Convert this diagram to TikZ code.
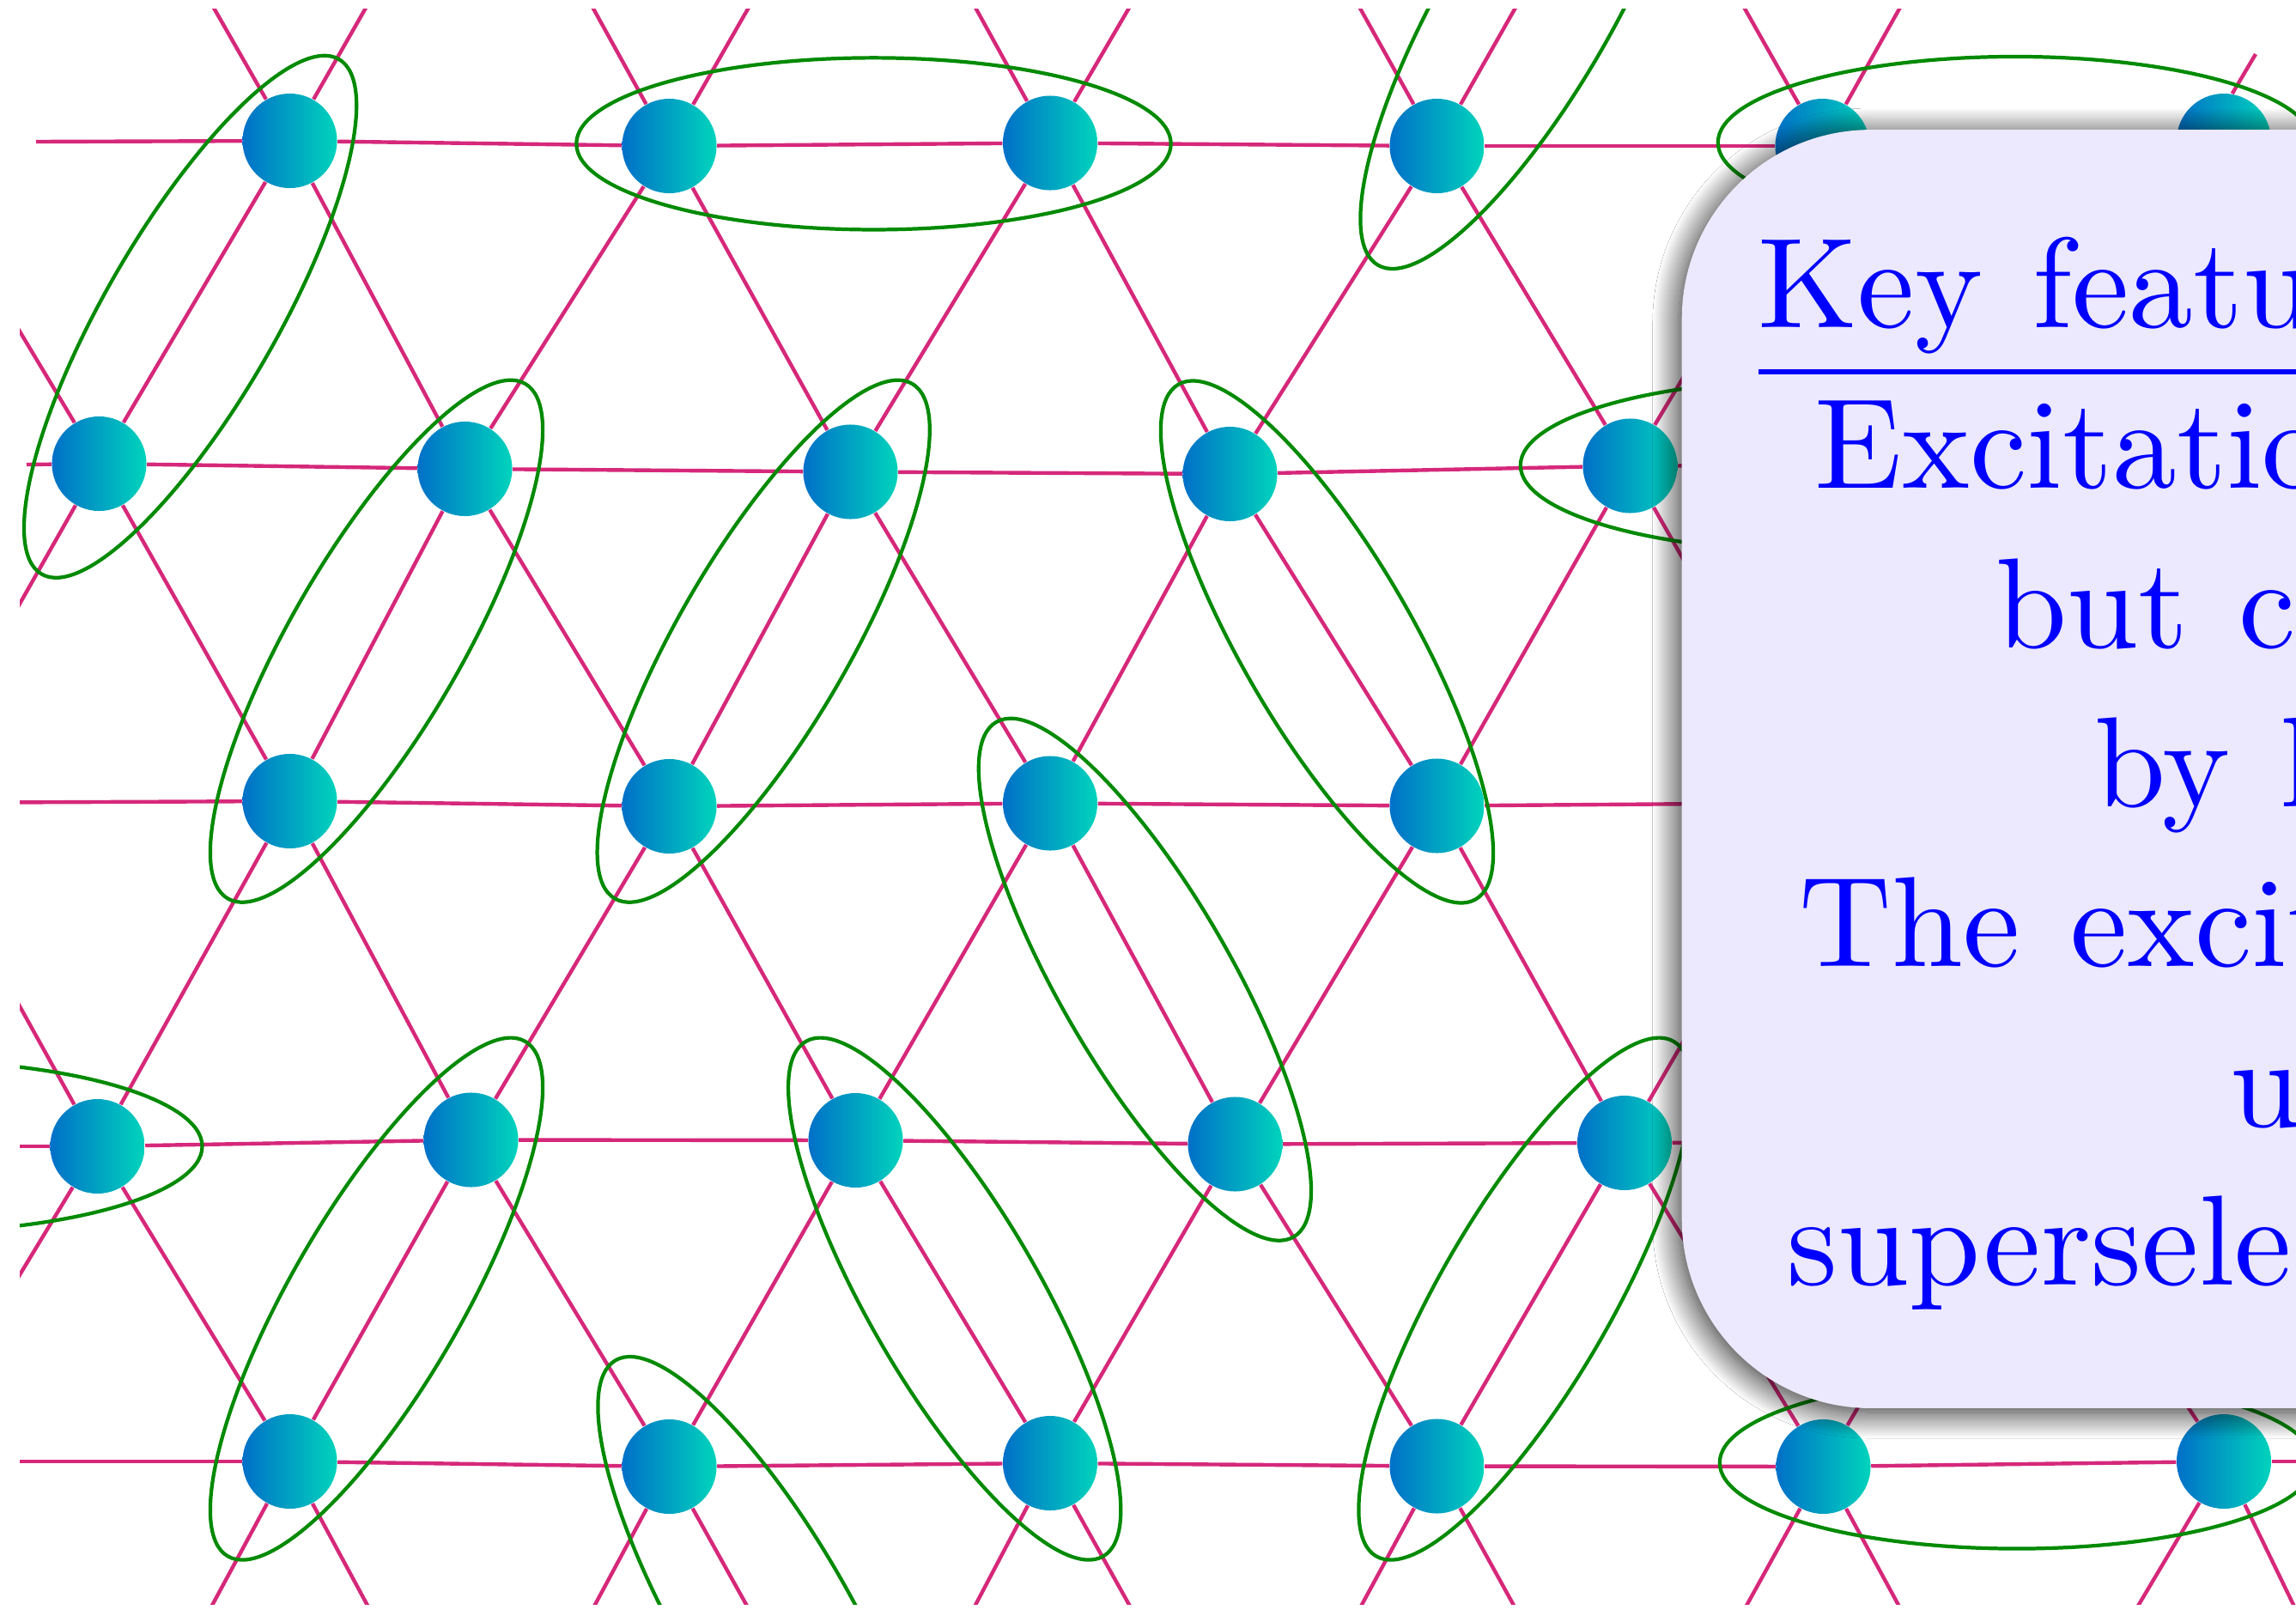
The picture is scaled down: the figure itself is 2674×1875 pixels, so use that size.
\documentclass[tikz,border=0pt]{standalone}
\usepackage{graphicx}
\usepackage{tikz}
\usetikzlibrary{shadows.blur}

\definecolor{bondred}{RGB}{214,40,122}
\definecolor{dimergreen}{RGB}{0,138,0}
\definecolor{siteblue}{RGB}{0,112,200}
\definecolor{siteteal}{RGB}{0,212,188}
\definecolor{notefill}{RGB}{236,232,253}

\tikzset{
  site/.style={circle, minimum size=1.1cm, inner sep=0pt, left color=siteblue, right color=siteteal},
  bond/.style={draw=bondred, line width=1.25pt},
  dimer/.style={draw=dimergreen, line width=1.2pt},
  notebox/.style={fill=notefill, rounded corners=2.2cm, inner sep=0pt,
    blur shadow={shadow xshift=-0.04cm, shadow yshift=-0.05cm, shadow blur radius=0.3cm,
                 shadow blur steps=30, shadow opacity=85}},
  notetext/.style={anchor=base west, inner sep=0pt, text=blue}
}

\begin{document}
\begin{tikzpicture}[x=0.01cm, y=-0.01cm]
  \fill[white] (0,0) rectangle (2674,1875);
  \useasboundingbox (0,0) rectangle (2674,1875);

  \begin{scope}
    \clip (23,10) rectangle (2674,1868);

    % triangular lattice sites
    \foreach \n/\x/\y in {11/337.5/164, 12/779.5/170, 13/1223/166.5, 14/1673.5/170, 15/2122.5/170, 16/2590/164,
                          21/115.5/540, 22/541.5/546, 23/990.5/549.5, 24/1432.5/552, 25/1898.5/542.5,
                          31/337.5/933, 32/779.5/939, 33/1223/935.5, 34/1673.5/938.5,
                          41/113.5/1335, 42/548.5/1327.5, 43/996.5/1328, 44/1438.5/1332.5, 45/1892/1331,
                          51/337.5/1702, 52/779.5/1708, 53/1223/1704, 54/1673.5/1707.5, 55/2123.5/1708, 56/2590/1702}
      \node[site] (n\n) at (\x,\y) {};

    % sites under the note, and loose ends of the lattice
    \foreach \n/\x/\y in {h26/2344.5/542, h35/2121.5/935, h46/2344.5/1330,
                          l1/-108.5/167, l3/-108.5/935, l4/-331.5/1335, l5/-108.5/1702,
                          s1/42/165, s2/31/541, s3/2627/63, r5/3036.5/1702}
      \coordinate (\n) at (\x,\y);
    \foreach \k in {1,...,7} {
      \coordinate (t\k) at ({114.5+446*(\k-1)},-226);
      \coordinate (b\k) at ({114.5+446*(\k-1)},2115);
    }

    % bonds
    \foreach \a/\b in {n11/n12, n12/n13, n13/n14, n14/n15, n15/n16,
                       n21/n22, n22/n23, n23/n24, n24/n25, n25/h26,
                       n31/n32, n32/n33, n33/n34, n34/h35,
                       n41/n42, n42/n43, n43/n44, n44/n45, n45/h46,
                       n51/n52, n52/n53, n53/n54, n54/n55, n55/n56, n56/r5,
                       n21/n11, n22/n12, n23/n13, n24/n14, n25/n15,
                       n31/n22, n32/n23, n33/n24, n34/n25,
                       n41/n31, n42/n32, n43/n33, n44/n34, n45/h35,
                       n51/n42, n52/n43, n53/n44, n54/n45, n55/h46,
                       n11/n22, n12/n23, n13/n24, n14/n25,
                       n21/n31, n22/n32, n23/n33, n24/n34, n25/h35,
                       n31/n42, n32/n43, n33/n44, n34/n45,
                       n41/n51, n42/n52, n43/n53, n44/n54, n45/n55, h46/n56,
                       s1/n11, s2/n21, l1/n21, n21/l3, l3/n31, l3/n41, l4/n41, n41/l5, l5/n51}
      \draw[bond] (\a) -- (\b);
    \foreach \k [count=\j from 2] in {1,...,5}
      \draw[bond] (t\k) -- (n1\k) -- (t\j);
    \foreach \k [count=\j from 2] in {1,...,6}
      \draw[bond] (b\k) -- (n5\k) -- (b\j);
    \draw[bond] (n16.80) -- (s3);

    % dimers
    \foreach \x/\y/\a in {221.6/368.8/60, 1017.5/167.4/0, 1778/9/60, 2347/166/0, 2117/542/0,
                          438.5/746.7/60, 889.2/746.7/60, 1545.5/747.5/-60, 1333.4/1140.7/-60,
                          -110.7/1335/0, 438.5/1512.6/60, 1111.7/1512.6/-60, 890/1884/-60,
                          1776/1512.6/60, 2349/1703.5/0}
      \draw[dimer, shift={(\x,\y)}, rotate=\a] (0,0) ellipse [x radius=3.46cm, y radius=1cm];
  \end{scope}

  % note
  \node[notebox, anchor=north west, minimum width=13.5cm, minimum height=14.88cm] (note) at (1958,150.4) {};
  \foreach \i/\x/\y/\t in {1/2047/381.7/{\underline{Key features:}},
                           2/2113/568.2/{Excitations},
                           3/2324/754.8/{but can},
                           4/2438.5/939.7/{by local},
                           5/2095/1125.4/{The excitations},
                           6/2597/1312.5/{under},
                           7/2081/1496.2/{superselection}}
    \node[notetext] (line\i) at (\x,\y) {\scalebox{4.25}{\spaceskip=0.39em\t}};
\end{tikzpicture}
\end{document}
